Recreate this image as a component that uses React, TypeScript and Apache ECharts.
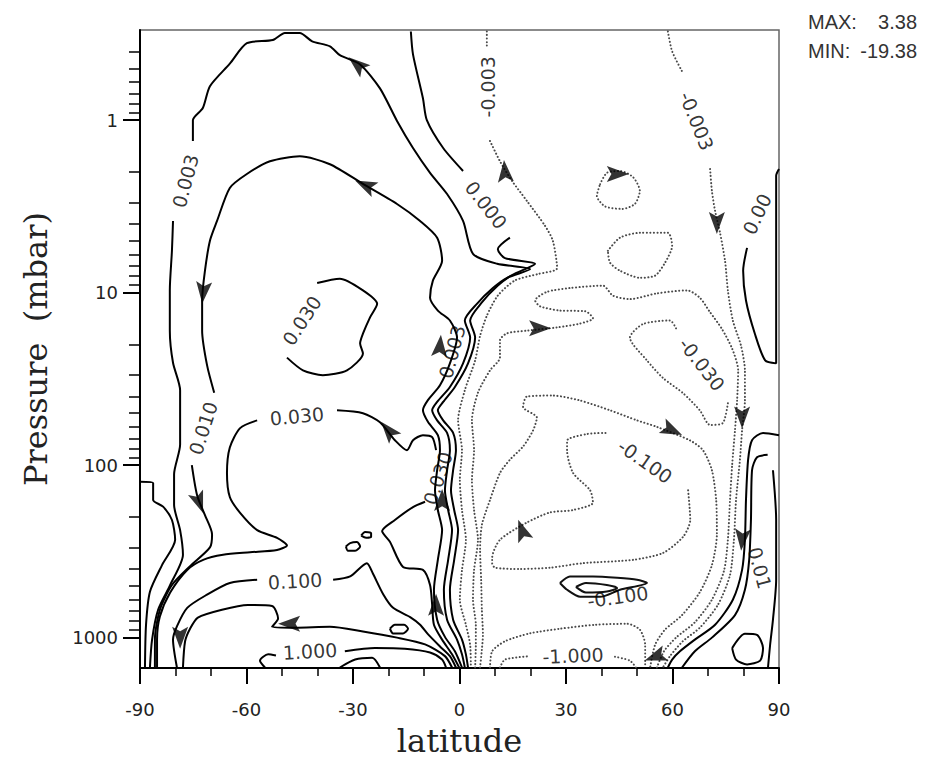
import React, { useEffect, useRef } from "react";
import * as echarts from "echarts";

type Pt = [number, number]; // [latitude (deg), pressure (mbar)]

// ---------- axes ----------
const latMin = -90;
const latMax = 90;
const latStep = 30;
const pMin = 0.3;
const pMax = 1500;
const pressureMajor = [1, 10, 100, 1000];
const pressureMinor = [
  0.4, 0.5, 0.6, 0.7, 0.8, 0.9, 2, 3, 4, 5, 6, 7, 8, 9, 20, 30, 40, 50, 60, 70, 80, 90,
  200, 300, 400, 500, 600, 700, 800, 900,
];
const fieldMax = "3.38";
const fieldMin = "-19.38";

// ---------- positive (solid) contours ----------
const c0003South: Pt[] = [[-87.2,1490],[-86.6,1027],[-84.9,689],[-81.5,495],[-77.9,331],[-78.7,238],[-80.4,170],[-80.4,113],[-78.7,76],[-78.7,36.8],[-80.7,25.5],[-81.6,16.6],[-81.6,9.7],[-81.0,5.7],[-80.7,3.84]];
const c0003Arc: Pt[] = [[-75.1,1.32],[-75.1,1.0],[-72.3,0.85],[-70.3,0.635],[-64.7,0.47],[-59.9,0.358],[-52.6,0.343],[-49.2,0.312],[-45.0,0.312],[-41.5,0.349],[-36.5,0.373],[-33.7,0.42],[-28.0,0.475],[-22.4,0.654],[-17.6,1.01],[-13.1,1.45],[-8.3,2.02],[-3.5,2.68],[1.0,3.84],[3.8,5.95],[10.6,6.8],[19.9,7.3],[13.4,8.2],[9.4,9.4],[4.9,11.6],[1.5,14.5],[3.0,18.2],[1.0,25.7],[-2.7,35.2],[-6.3,43],[-7.7,48],[-6.3,55],[-3.5,65],[-2.7,82],[-3.5,107],[-4.1,140],[-3.2,182],[-2.1,238],[-3.2,354],[-4.4,528],[-3.5,787],[-0.7,1027],[0.7,1250],[1.5,1490]];
const c0000Top: Pt[] = [[-13.7,0.306],[-13.1,0.415],[-10.3,0.746],[-9.2,1.0],[-4.6,1.45],[1.0,1.97]];
const c0000Channel: Pt[] = [[14.2,4.8],[10.8,5.6],[12.8,6.3],[21.3,6.8],[14.8,7.9],[10.8,9.1],[6.3,11.4],[3.0,14.5],[4.4,18.2],[2.4,25.7],[-1.3,35.2],[-4.6,43],[-6.1,48],[-4.6,55],[-1.8,65],[-1.0,82],[-1.8,107],[-2.4,140],[-1.5,182],[-0.4,238],[-1.5,354],[-2.7,528],[-1.8,787],[0.7,1027],[1.8,1250],[2.4,1490]];
const c0000South: Pt[] = [[-90,125],[-86.3,127],[-86.3,159],[-83.5,174],[-81.0,208],[-80.1,271],[-83.8,380],[-87.2,542],[-88.3,840],[-88.6,1490]];
const c0010Lower: Pt[] = [[-85.8,1490],[-85.8,1027],[-84.4,689],[-81.0,495],[-75.9,385],[-70.3,300],[-69.7,252],[-71.7,195],[-73.9,150],[-75.4,100]];
const c0010Upper: Pt[] = [[-69.1,38],[-71.1,26.4],[-72.5,16.6],[-72.5,11.1],[-71.7,7.46],[-70.3,5.0],[-68.3,3.84],[-64.7,2.47],[-59.9,2.05],[-53.4,1.73],[-45.0,1.62],[-36.5,1.8],[-27.2,2.34],[-17.6,3.06],[-11.1,3.84],[-6.3,4.8],[-4.9,6.53],[-7.5,8.52],[-8.3,10.7],[-6.1,12.7],[-2.7,14.5],[-0.7,18.2],[-2.7,25.7],[-5.5,34.4],[-8.9,42],[-10.3,48],[-8.9,56],[-6.1,67],[-5.5,82],[-6.3,107],[-6.9,140],[-6.1,182],[-4.9,238],[-6.1,354],[-7.2,528],[-6.3,787],[-4.1,990],[-1.3,1200],[0.7,1490]];
const c0030Loop: Pt[] = [[-40.1,8.8],[-33.7,8.3],[-27.2,9.7],[-23.2,11.6],[-25.2,13.9],[-27.2,17.3],[-28.0,19.7],[-27.2,22.5],[-31.7,28.2],[-38.5,30.1],[-44.1,28.2],[-48.6,23.8]];
const c0030West: Pt[] = [[-57.0,55],[-61.8,61],[-64.7,79],[-65.5,111],[-64.7,153],[-61.8,189],[-57.0,238],[-51.4,264],[-48.6,292],[-51.4,310],[-59.0,320],[-66.6,331],[-72.2,354],[-76.7,405],[-81.5,548],[-84.4,755],[-85.2,1027],[-85.2,1490]];
const c0030East1: Pt[] = [[-34.5,48.1],[-27.2,50],[-22.4,56.4],[-18.2,71.7],[-14.8,81.9],[-13.1,71.7],[-10.3,67],[-7.7,68.8],[-6.6,81.9]];
const c0030East2: Pt[] = [[-9.7,163],[-13.1,175],[-18.2,208],[-21.8,241],[-19.6,278],[-15.9,389],[-10.3,405],[-8.3,495],[-7.7,645],[-7.2,842],[-4.9,1027],[-2.1,1250],[-0.1,1490]];
const c0100West: Pt[] = [[-57.0,462],[-64.7,482],[-71.1,563],[-76.7,672],[-79.6,860],[-80.7,1027],[-79.6,1490]];
const c0100East: Pt[] = [[-35.6,462],[-30.8,442],[-26.1,370],[-24.4,425],[-21.5,560],[-18.7,672],[-13.9,760],[-11.1,842],[-8.9,955],[-5.5,1125],[-2.7,1280],[-1.0,1490]];
const c0300: Pt[] = [[-77.9,1490],[-77.3,1050],[-75.9,888],[-73.7,765],[-66.9,689],[-59.6,647],[-52.8,655],[-51.1,775],[-52.8,866],[-46.3,877],[-36.5,866],[-27.2,922],[-17.6,1000],[-9.7,1095],[-4.1,1280],[-2.1,1490]];
const c1000West: Pt[] = [[-54.8,1490],[-56.2,1360],[-53.9,1250],[-51.7,1270]];
const c1000East: Pt[] = [[-32.3,1200],[-23.8,1150],[-15.4,1160],[-8.3,1220],[-4.9,1340],[-3.8,1490]];
const c1000Inner: Pt[] = [[-33.7,1490],[-29.4,1340],[-24.6,1310],[-22.4,1490]];
const loopA: Pt[] = [[-32.0,296],[-30.8,283],[-28.9,279],[-28.0,296],[-29.4,314],[-31.4,314],[-32.0,296]];
const loopB: Pt[] = [[-27.7,256],[-26.6,244],[-24.9,248],[-24.9,260],[-26.3,264],[-27.7,256]];
const loopC: Pt[] = [[-19.6,888],[-18.2,842],[-15.6,842],[-14.5,888],[-15.9,945],[-18.7,945],[-19.6,888]];
const c0000North: Pt[] = [[81.0,5.5],[79.9,7.46],[80.7,11.1],[83.2,17.3],[86.1,24.7],[89.2,25.7],[89.2,5.72],[89.2,2.1],[90,1.92]];
const cPolarA: Pt[] = [[90,67],[85.5,65],[82.4,71.7],[81.3,93],[80.7,159],[80.4,271],[79.6,405],[77.0,603],[72.0,842],[66.3,1027],[62.1,1200],[59.9,1340],[58.7,1490]];
const cPolarB: Pt[] = [[86.8,87],[83.8,90],[82.4,107],[82.1,208],[81.6,354],[80.4,528],[77.6,740],[71.1,1000],[66.3,1200],[62.7,1490]];
const cPolarC: Pt[] = [[88.3,107],[89.2,208],[89.2,462],[88.3,787],[87.5,1100],[86.9,1490]];
const cPolarLoop: Pt[] = [[76.8,1150],[80.4,950],[83.8,965],[85.5,1150],[84.7,1360],[81.0,1430],[77.9,1340],[76.8,1150]];

// ---------- negative (dotted) contours ----------
const cN0003WestTop: Pt[] = [[7.7,0.306],[7.7,0.373]];
const cN0003Channel: Pt[] = [[8.6,1.32],[11.4,1.73],[14.8,2.25],[19.0,2.94],[24.1,4.1],[26.3,5.0],[27.5,7.2],[22.1,7.8],[15.6,8.5],[10.8,10.4],[7.7,13.6],[5.8,17.8],[4.4,24.7],[1.5,36.8],[-0.4,54.9],[0.7,81.9],[0.1,122],[0.7,182],[1.8,271],[0.7,405],[0.1,603],[1.8,842],[3.0,1100],[3.2,1490]];
const cN0003EastTop: Pt[] = [[58.7,0.306],[59.9,0.399],[63.0,0.535]];
const cN0003East: Pt[] = [[70.6,1.92],[71.1,2.57],[72.0,3.36],[73.4,4.5],[74.8,6.53],[75.6,9.7],[77.0,14.5],[79.3,20.3],[80.4,28.2],[80.4,42.1],[79.6,62.8],[79.0,93],[77.9,159],[77.3,271],[76.2,433],[72.8,645],[67.7,876],[62.9,1050],[59.3,1280],[57.3,1490]];
const cN0010: Pt[] = [[4.4,1490],[4.6,1100],[4.6,842],[3.8,603],[4.1,405],[5.2,271],[4.1,182],[3.5,122],[4.1,82],[3.5,55],[5.2,38],[8.6,28.2],[11.4,23.8],[11.4,18.9],[13.4,17.2],[19.0,16.6],[27.5,15.9],[34.0,15.1],[37.6,14.1],[35.4,12.8],[28.3,12.7],[22.7,12.0],[21.3,11.1],[24.6,9.9],[31.1,9.4],[40.4,9.1],[43.2,10.4],[48.0,10.9],[55.6,10.1],[64.1,9.7],[67.7,10.7],[70.6,13.0],[73.9,16.2],[76.8,21.1],[78.5,28.2],[78.2,42.1],[77.6,62.8],[76.8,100],[76.2,159],[75.6,271],[74.5,410],[71.1,603],[66.3,815],[61.0,1000],[57.6,1200],[55.6,1490]];
const cN0010Cell1: Pt[] = [[39.6,2.35],[41.5,2.02],[45.2,1.97],[48.9,2.14],[50.8,2.57],[49.4,3.06],[45.8,3.27],[41.0,3.16],[38.7,2.75],[39.6,2.35]];
const cN0010Cell2: Pt[] = [[41.8,5.72],[45.2,4.8],[50.8,4.5],[58.7,4.5],[59.9,5.35],[57.9,6.7],[55.1,7.97],[50.8,8.2],[45.2,7.46],[42.4,6.7],[41.8,5.72]];
const cN0030Loop: Pt[] = [[75.6,43.8],[74.2,56.9],[70.6,58.5],[67.7,48.1],[63.0,38.3],[57.3,31.2],[52.8,24.7],[48.0,18.2],[51.7,15.2],[59.3,14.5],[61.0,16.1]];
const cN0030: Pt[] = [[5.8,1490],[6.3,1173],[6.6,966],[6.3,689],[6.1,462],[5.8,310],[6.3,222],[8.6,159],[11.4,111],[14.2,93],[17.9,78],[20.7,63],[21.8,53],[17.9,46],[19.0,40],[26.3,39.5],[33.8,42.1],[42.4,48.1],[50.0,55],[55.6,60],[65.0,72],[68.6,82],[71.1,107],[72.3,159],[72.5,252],[71.1,380],[67.7,545],[62.7,740],[57.9,899],[55.1,1100],[53.7,1490]];
const cN0100: Pt[] = [[64.4,140],[65.0,208],[63.0,260],[57.3,323],[48.9,354],[34.8,370],[25.5,393],[17.0,400],[10.0,393],[9.2,370],[9.2,345],[11.4,271],[19.0,215],[25.5,188],[32.0,182],[37.6,165],[36.8,140],[32.0,111],[30.3,82],[30.3,72],[35.9,66],[41.5,65]];
const cN0300: Pt[] = [[8.6,1490],[9.2,1200],[12.8,1050],[19.9,944],[28.3,888],[38.2,842],[47.2,831],[50.8,899],[52.3,1100],[52.3,1490]];
const cN1000West: Pt[] = [[11.4,1490],[12.8,1340],[19.9,1280]];
const cN1000East: Pt[] = [[43.8,1290],[48.0,1360],[49.7,1490]];
const cN0100Core1: Pt[] = [[28.3,482],[31.1,442],[37.6,442],[44.4,450],[50.0,462],[52.8,482],[45.2,528],[39.6,580],[34.0,580],[30.3,528],[28.3,482]];
const cN0100Core2: Pt[] = [[32.8,508],[35.6,482],[41.5,495],[44.4,515],[41.5,541],[35.6,548],[32.8,508]];

const solidContours: Pt[][] = [
  c0003South, c0003Arc, c0000Top, c0000Channel, c0000South, c0010Lower, c0010Upper,
  c0030Loop, c0030West, c0030East1, c0030East2, c0100West, c0100East, c0300,
  c1000West, c1000East, c1000Inner, loopA, loopB, loopC, c0000North, cPolarA, cPolarB,
  cPolarC, cPolarLoop,
];
const dottedContours: Pt[][] = [
  cN0003WestTop, cN0003Channel, cN0003EastTop, cN0003East, cN0010, cN0010Cell1, cN0010Cell2,
  cN0030Loop, cN0030, cN0100, cN0300, cN1000West, cN1000East,
];
const coreContours: Pt[][] = [cN0100Core1, cN0100Core2];

// ---------- contour labels: text, latitude, pressure ----------
const labelText = ["0.003","0.000","-0.003","-0.003","0.00","0.030","0.010","0.030","0.003","0.030","0.100","1.000","-0.030","-0.100","-0.100","-1.000","0.01"];
const labelLat = [-77.2, 7.5, 8.0, 66.8, 83.8, -44.4, -72.2, -45.8, -2.1, -6.1, -46.3, -42.1, 68.3, 52.3, 44.6, 32.0, 84.6];
const labelP = [2.25, 3.1, 0.64, 1.01, 3.5, 14.5, 61, 52, 22, 119, 470, 1200, 26, 95, 580, 1271, 394];
const labelAngle = [75, -52, 90, -68, 65, 57, 72, 5, 75, 72, 3, 3, -52, -35, 8, 2, -75];

// ---------- flow arrows: latitude, pressure, direction (deg, ccw from east) ----------
const arrowLat = [-28.9, -26.6, -72.2, -73.3, -20.1, -78.7, -48.0, -5.5, -4.9, -6.6, 12.8, 44.6, 22.7, 72.5, 59.9, 79.6, 79.6, 17.6, 55.1];
const arrowP = [0.475, 2.38, 10.0, 165, 62.8, 1000, 830, 20.3, 159, 645, 1.97, 2.05, 16.1, 3.94, 62.8, 53, 271, 238, 1290];
const arrowDir = [140, 155, -95, -70, 130, -90, 180, 85, 90, 90, 95, 0, 0, -90, -25, -90, -95, 110, 200];

const ARROW = "path://M0,0L24,9L0,18L5,9Z";

export default function App() {
  const ref = useRef<HTMLDivElement>(null);
  useEffect(() => {
    if (!ref.current) return;
    const chart = echarts.init(ref.current, undefined, { renderer: "svg" });

    const lineSeries = (data: Pt[], style: any) => ({
      type: "line",
      data,
      xAxisIndex: 0,
      yAxisIndex: 0,
      symbol: "none",
      showSymbol: false,
      smooth: 0.25,
      silent: true,
      lineStyle: style,
      z: 2,
    });

    const series: any[] = [
      ...dottedContours.map((d) =>
        lineSeries(d, { color: "#4a4a4a", width: 2, type: [0.1, 3.4], cap: "round" })
      ),
      ...solidContours.map((d) => lineSeries(d, { color: "#000", width: 2, type: "solid" })),
      ...coreContours.map((d) => lineSeries(d, { color: "#111", width: 2, type: "solid" })),
      {
        type: "scatter",
        silent: true,
        symbol: ARROW,
        symbolSize: [22, 16],
        itemStyle: { color: "#000" },
        z: 4,
        data: arrowLat.map((lat, i) => ({
          value: [lat, arrowP[i]],
          symbolRotate: arrowDir[i],
        })),
      },
      {
        type: "scatter",
        silent: true,
        symbolSize: 0,
        z: 5,
        label: {
          show: true,
          position: "inside",
          fontFamily: "DejaVu Sans",
          fontSize: 19,
          color: "#000",
        },
        data: labelText.map((t, i) => ({
          value: [labelLat[i], labelP[i]],
          label: { formatter: t, rotate: labelAngle[i] },
        })),
      },
    ];

    const axisFont = { fontFamily: "DejaVu Sans", fontSize: 18, color: "#222" };
    const nameFont = { fontFamily: "DejaVu Serif", fontSize: 32, color: "#222" };

    chart.setOption({
      animation: false,
      backgroundColor: "#ffffff",
      grid: {
        left: 140,
        right: 147,
        top: 30,
        bottom: 93,
        containLabel: false,
        outerBoundsMode: "none",
        show: true,
        borderColor: "#666",
        borderWidth: 1.5,
        backgroundColor: "#ffffff",
      },
      xAxis: {
        type: "value",
        min: latMin,
        max: latMax,
        interval: latStep,
        axisLine: { show: true, onZero: false, lineStyle: { color: "#000", width: 2 } },
        axisTick: { show: true, length: 16, lineStyle: { color: "#000", width: 2 } },
        minorTick: { show: true, splitNumber: 3, length: 8, lineStyle: { color: "#000", width: 1.5 } },
        axisLabel: { ...axisFont, margin: 32 },
        splitLine: { show: false },
        minorSplitLine: { show: false },
        name: "latitude",
        nameLocation: "middle",
        nameGap: 57,
        nameTextStyle: nameFont,
      },
      yAxis: [
        {
          type: "log",
          logBase: 10,
          min: pMin,
          max: pMax,
          inverse: true,
          position: "left",
          axisLine: { show: true, onZero: false, lineStyle: { color: "#000", width: 2 } },
          axisTick: { show: true, length: 17, customValues: pressureMajor, lineStyle: { color: "#000", width: 2 } },
          axisLabel: {
            ...axisFont,
            margin: 22,
            customValues: pressureMajor,
            formatter: (v: number) => (pressureMajor.indexOf(v) >= 0 ? String(v) : ""),
          },
          splitLine: { show: false },
          name: "Pressure  (mbar)",
          nameLocation: "middle",
          nameGap: 88,
          nameRotate: 90,
          nameTextStyle: nameFont,
        },
        {
          // minor logarithmic ticks: same scale, moved onto the left edge of the plot
          type: "log",
          logBase: 10,
          min: pMin,
          max: pMax,
          inverse: true,
          position: "right",
          offset: -639,
          axisLine: { show: false, onZero: false },
          axisTick: {
            show: true,
            inside: true,
            length: 11,
            customValues: pressureMinor,
            lineStyle: { color: "#000", width: 1.5 },
          },
          axisLabel: { show: false },
          splitLine: { show: false },
        },
      ],
      graphic: [
        { type: "text", left: 808, top: 12, style: { text: "MAX:", fontFamily: "Liberation Sans", fontSize: 20, fill: "#333" } },
        { type: "text", right: 9, top: 12, style: { text: fieldMax, fontFamily: "Liberation Sans", fontSize: 20, fill: "#333" } },
        { type: "text", left: 808, top: 41, style: { text: "MIN:", fontFamily: "Liberation Sans", fontSize: 20, fill: "#333" } },
        { type: "text", right: 9, top: 41, style: { text: fieldMin, fontFamily: "Liberation Sans", fontSize: 20, fill: "#333" } },
      ],
      series,
    });

    return () => chart.dispose();
  }, []);

  return (
    <div
      ref={ref}
      style={{ position: "absolute", left: 0, top: 0, width: 926, height: 761, background: "#fff" }}
    />
  );
}
